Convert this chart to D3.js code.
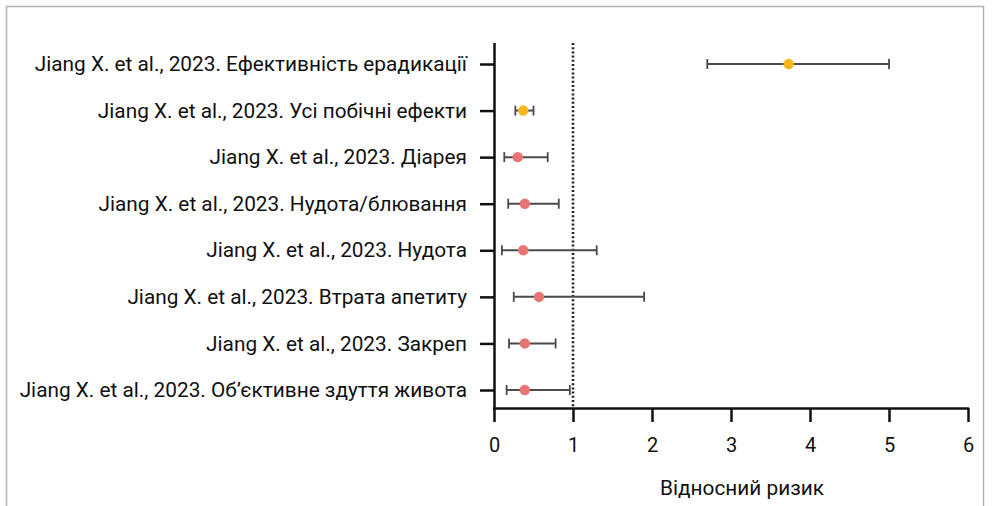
<!DOCTYPE html>
<html>
<head>
<meta charset="utf-8">
<script src="https://cdn.jsdelivr.net/npm/d3@7"></script>
<style>
  html, body { margin: 0; padding: 0; background: #fff; }
  svg { display: block; }
  text { font-family: Roboto, "DejaVu Sans", sans-serif; fill: #111; }
</style>
</head>
<body>
<svg id="chart" width="992" height="506"></svg>
<script>
// Outcomes (top to bottom) and their relative risks with 95% CI
const outcomes = [
  "Jiang X. et al., 2023. Ефективність ерадикації",
  "Jiang X. et al., 2023. Усі побічні ефекти",
  "Jiang X. et al., 2023. Діарея",
  "Jiang X. et al., 2023. Нудота/блювання",
  "Jiang X. et al., 2023. Нудота",
  "Jiang X. et al., 2023. Втрата апетиту",
  "Jiang X. et al., 2023. Закреп",
  "Jiang X. et al., 2023. Об’єктивне здуття живота"
];
const riskRatio = [3.73, 0.37, 0.30, 0.39, 0.37, 0.57, 0.39, 0.39];
const ciLower   = [2.70, 0.27, 0.13, 0.18, 0.10, 0.25, 0.19, 0.16];
const ciUpper   = [5.00, 0.50, 0.68, 0.82, 1.30, 1.90, 0.78, 0.96];
const groupKind = ["summary", "summary", "adverse", "adverse", "adverse", "adverse", "adverse", "adverse"];
const xTicks = [0, 1, 2, 3, 4, 5, 6];
const xTitle = "Відносний ризик";

const colors = { summary: "#F5B71C", adverse: "#E97474" };

const svg = d3.select("#chart");

// outer frame
svg.append("path")
  .attr("d", "M6.5,506 V6.5 H983.5 V506")
  .attr("fill", "none")
  .attr("stroke", "#b3b3b3")
  .attr("stroke-width", 1.5);

const plot = { left: 494, right: 968, top: 43, bottom: 408 };

const x = d3.scaleLinear().domain([0, 6]).range([plot.left, plot.right]);
const y = d3.scalePoint().domain(outcomes).range([64, 390]);

// reference line at RR = 1
svg.append("line")
  .attr("x1", x(1)).attr("x2", x(1))
  .attr("y1", plot.top).attr("y2", plot.bottom)
  .attr("stroke", "#222")
  .attr("stroke-width", 2.6)
  .attr("stroke-dasharray", "2 2.2");

// x axis
const xAxis = svg.append("g")
  .attr("transform", `translate(0,${plot.bottom})`)
  .call(d3.axisBottom(x).tickValues(xTicks).tickFormat(d3.format("d")).tickSize(14).tickSizeOuter(0));
xAxis.select(".domain").attr("stroke", "#111").attr("stroke-width", 2.5)
  .attr("d", `M${plot.left - 1},0.5H${plot.right + 1}`);
xAxis.selectAll(".tick line").attr("stroke", "#111").attr("stroke-width", 2.5);
xAxis.selectAll(".tick text")
  .attr("dy", 0).attr("y", 44)
  .style("font-size", "20px")
  .style("font-family", "Roboto, sans-serif")
  .attr("fill", "#111");

// y axis
const yAxis = svg.append("g")
  .attr("transform", `translate(${plot.left},0)`)
  .call(d3.axisLeft(y).tickSize(14).tickPadding(13).tickSizeOuter(0));
yAxis.select(".domain").attr("stroke", "#111").attr("stroke-width", 2.5)
  .attr("d", `M0.5,${plot.top}V${plot.bottom}`);
yAxis.selectAll(".tick line").attr("stroke", "#111").attr("stroke-width", 2.5);
yAxis.selectAll(".tick text")
  .style("font-size", "20.8px")
  .style("font-family", "Roboto, sans-serif")
  .attr("fill", "#111");

// axis title
svg.append("text")
  .attr("x", 742).attr("y", 495)
  .attr("text-anchor", "middle")
  .style("font-size", "20.8px")
  .text(xTitle);

// confidence intervals
const rows = outcomes.map((o, i) => ({
  name: o, rr: riskRatio[i], lo: ciLower[i], hi: ciUpper[i], kind: groupKind[i]
}));

const g = svg.append("g");
const row = g.selectAll("g.row").data(rows).join("g")
  .attr("class", "row")
  .attr("transform", d => `translate(0,${y(d.name)})`);

row.append("line")
  .attr("x1", d => x(d.lo)).attr("x2", d => x(d.hi))
  .attr("stroke", "#4a4a4a").attr("stroke-width", 2);
row.append("line")
  .attr("x1", d => x(d.lo)).attr("x2", d => x(d.lo))
  .attr("y1", -5).attr("y2", 5)
  .attr("stroke", "#4a4a4a").attr("stroke-width", 1.8);
row.append("line")
  .attr("x1", d => x(d.hi)).attr("x2", d => x(d.hi))
  .attr("y1", -5).attr("y2", 5)
  .attr("stroke", "#4a4a4a").attr("stroke-width", 1.8);
row.append("circle")
  .attr("cx", d => x(d.rr))
  .attr("r", 5.2)
  .attr("fill", d => colors[d.kind]);
</script>
</body>
</html>
